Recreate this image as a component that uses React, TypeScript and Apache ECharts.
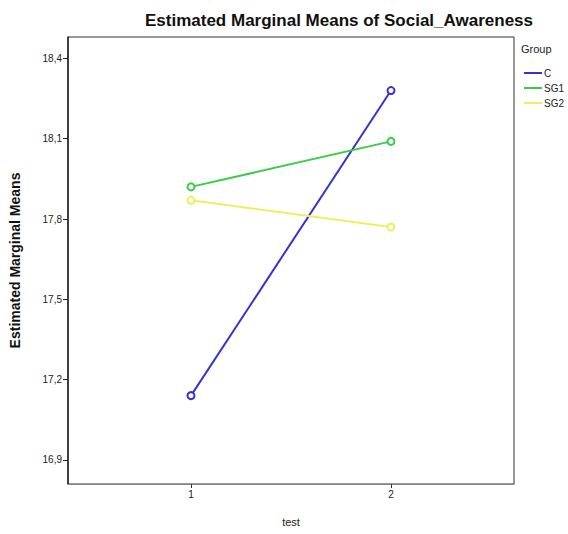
import React, { useEffect, useRef } from "react";
import * as echarts from "echarts";

const tests = [1, 2];
const groupNames = ["C", "SG1", "SG2"];
const cValues = [17.14, 18.28];
const sg1Values = [17.92, 18.09];
const sg2Values = [17.87, 17.77];
const yTicks = [16.9, 17.2, 17.5, 17.8, 18.1, 18.4];
const groupColors = ["#3434c8", "#3ccc4c", "#eeee60"];

const FONT = "'Liberation Sans', Arial, sans-serif";

export default function App() {
  const ref = useRef<HTMLDivElement>(null);
  useEffect(() => {
    if (!ref.current) return;
    const chart = echarts.init(ref.current, null, { renderer: "svg" });
    const seriesValues = [cValues, sg1Values, sg2Values];
    chart.setOption({
      animation: false,
      backgroundColor: "#ffffff",
      title: {
        text: "Estimated Marginal Means of Social_Awareness",
        left: 140,
        top: 7,
        textStyle: { fontFamily: FONT, fontSize: 17, fontWeight: "bold", color: "#111" },
      },
      graphic: [
        {
          type: "text",
          left: 521,
          top: 43,
          style: { text: "Group", fontFamily: FONT, fontSize: 11, fill: "#222" },
        },
      ],
      legend: {
        orient: "vertical",
        left: 519,
        top: 63,
        itemWidth: 18,
        itemHeight: 2,
        itemGap: 5,
        icon: "rect",
        textStyle: { fontFamily: FONT, fontSize: 10, color: "#222", padding: [0, 0, 0, -3] },
        data: groupNames,
      },
      grid: {
        left: 68,
        top: 37,
        right: 54,
        bottom: 50,
        show: true,
        borderColor: "#333",
        borderWidth: 1,
      },
      xAxis: {
        type: "value",
        min: 0.385,
        max: 2.615,
        name: "test",
        nameLocation: "middle",
        nameGap: 32,
        nameTextStyle: { fontFamily: FONT, fontSize: 11, color: "#222" },
        axisLine: { show: true, lineStyle: { color: "#888", width: 1 } },
        axisTick: { show: true, customValues: tests, length: 4, lineStyle: { color: "#333" } },
        axisLabel: {
          customValues: tests,
          fontFamily: FONT,
          fontSize: 10,
          color: "#222",
          margin: 5,
        },
        splitLine: { show: false },
      },
      yAxis: {
        type: "value",
        min: 16.81,
        max: 18.48,
        name: "Estimated Marginal Means",
        nameLocation: "middle",
        nameGap: 46,
        nameTextStyle: { fontFamily: FONT, fontSize: 14, fontWeight: "bold", color: "#111" },
        axisLine: { show: true, lineStyle: { color: "#222", width: 1.5 } },
        axisTick: { show: true, customValues: yTicks, length: 5, lineStyle: { color: "#222" } },
        axisLabel: {
          customValues: yTicks,
          fontFamily: FONT,
          fontSize: 10,
          color: "#222",
          margin: 6,
          formatter: (v: number) => v.toFixed(1).replace(".", ","),
        },
        splitLine: { show: false },
      },
      series: groupNames.map((name, i) => ({
        name,
        type: "line",
        data: tests.map((t, j) => [t, seriesValues[i][j]]),
        symbol: "emptyCircle",
        symbolSize: 7,
        color: groupColors[i],
        lineStyle: { width: 2, color: groupColors[i] },
        itemStyle: { color: groupColors[i], borderWidth: 1.5 },
      })),
    });
    return () => chart.dispose();
  }, []);
  return (
    <div
      ref={ref}
      style={{ position: "fixed", left: 0, top: 0, width: 568, height: 534, background: "#fff" }}
    />
  );
}
